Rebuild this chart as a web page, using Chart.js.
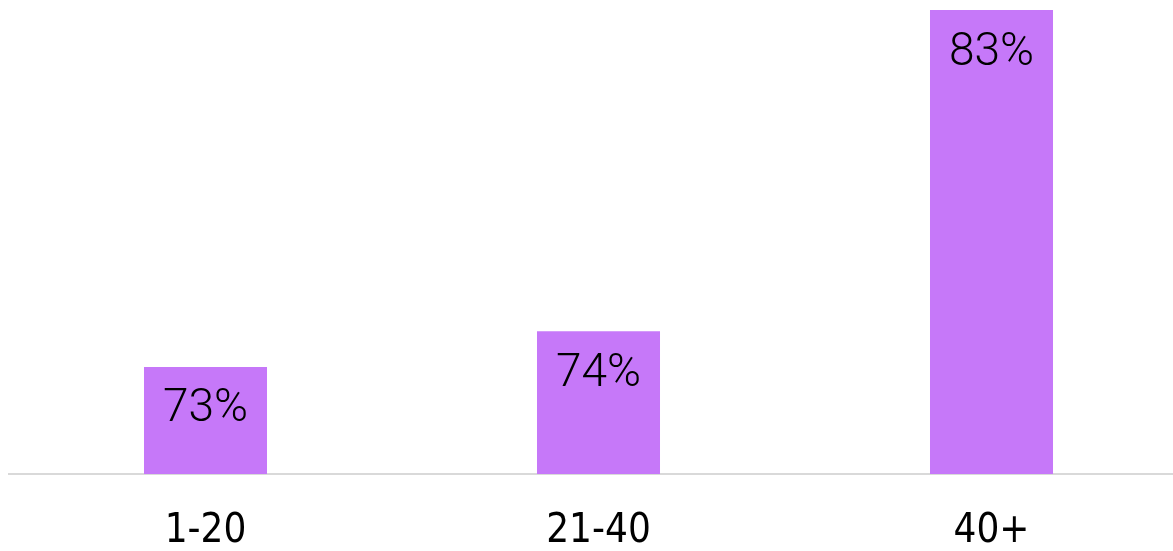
<!DOCTYPE html>
<html>
<head>
<meta charset="utf-8">
<script src="https://cdn.jsdelivr.net/npm/chart.js@4"></script>
<style>
	html, body { margin: 0; padding: 0; background: #fff; overflow: hidden; }
	#wrap { width: 1173px; height: 551px; overflow: hidden; }
</style>
</head>
<body>
<div id="wrap"><canvas id="chart" width="1190" height="551"></canvas></div>
<script>
const ageGroups = ['1-20', '21-40', '40+'];
const shares = [73, 74, 83];

// value labels centred near the top inside each bar
const barLabels = {
	id: 'barLabels',
	afterDatasetsDraw(chart) {
		const ctx = chart.ctx;
		ctx.save();
		ctx.font = '300 46px Roboto, sans-serif';
		ctx.fillStyle = '#000';
		ctx.textAlign = 'center';
		ctx.textBaseline = 'middle';
		chart.getDatasetMeta(0).data.forEach((bar, i) => {
			ctx.fillText(shares[i] + '%', bar.x, bar.y + 43);
		});
		ctx.restore();
	}
};

new Chart(document.getElementById('chart'), {
	type: 'bar',
	data: {
		labels: ageGroups,
		datasets: [{
			data: shares,
			backgroundColor: '#c678f9',
			barPercentage: 0.313,
			categoryPercentage: 1
		}]
	},
	options: {
		responsive: false,
		animation: false,
		layout: { padding: { left: 9, right: 2, top: 10, bottom: 0 } },
		plugins: {
			legend: { display: false },
			tooltip: { enabled: false }
		},
		scales: {
			x: {
				grid: { display: false, drawTicks: false },
				border: { color: '#d9d9d9', width: 2 },
				ticks: {
					color: '#000',
					padding: 34,
					font: { family: 'DejaVu Sans Condensed', size: 40 }
				},
				afterFit: scale => { scale.height = 77; }
			},
			y: {
				display: false,
				min: 70,
				max: 83
			}
		}
	},
	plugins: [barLabels]
});
</script>
</body>
</html>
